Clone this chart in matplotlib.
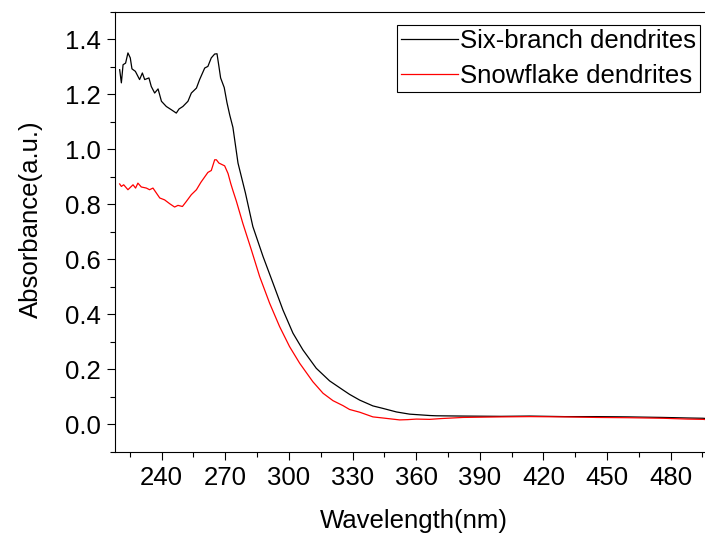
import matplotlib
matplotlib.use("Agg")
import matplotlib.pyplot as plt
from matplotlib.ticker import MultipleLocator

plt.rcParams['font.family'] = ['Liberation Sans', 'DejaVu Sans']

# Six-branch dendrites (black)
six_wl = [220.2, 221.0, 221.8, 223.0, 224.1, 225.2, 226.0, 227.6, 229.6, 230.9,
          232.0, 234.0, 235.1, 236.7, 238.3, 239.9, 242.2, 244.6, 246.9, 248.2,
          250.0, 252.4, 254.0, 256.4, 257.9, 260.3, 261.8, 263.4, 265.0, 266.1,
          267.0, 267.8, 269.5, 270.8, 272.1, 273.6, 276.0, 279.5, 283.0, 287.8,
          292.5, 297.2, 301.9, 306.6, 312.9, 319.2, 325.5, 328.6, 333.4, 339.6,
          344.3, 350.7, 356.9, 366.4, 369.5, 382.1, 400.0, 413.5, 430.0, 445.0,
          460.0, 476.4, 488.0, 495.2, 497.0]
six_abs = [1.290, 1.242, 1.308, 1.314, 1.351, 1.333, 1.293, 1.284, 1.254, 1.278,
           1.254, 1.260, 1.229, 1.205, 1.220, 1.175, 1.156, 1.144, 1.132, 1.147,
           1.156, 1.175, 1.205, 1.223, 1.254, 1.296, 1.302, 1.333, 1.347, 1.348,
           1.302, 1.260, 1.225, 1.170, 1.125, 1.080, 0.950, 0.841, 0.719, 0.610,
           0.513, 0.415, 0.331, 0.270, 0.203, 0.157, 0.124, 0.108, 0.087, 0.066,
           0.057, 0.044, 0.036, 0.031, 0.030, 0.029, 0.028, 0.029, 0.027, 0.027,
           0.026, 0.024, 0.022, 0.021, 0.020]

# Snowflake dendrites (red)
snow_wl = [220.2, 221.0, 222.1, 224.1, 226.5, 227.7, 228.8, 230.4, 232.8, 234.3,
           235.9, 237.5, 239.1, 241.4, 243.8, 246.1, 247.7, 249.8, 251.6, 254.0,
           256.4, 258.5, 261.8, 263.4, 265.0, 265.8, 267.0, 269.7, 271.3, 272.6,
           273.6, 275.2, 278.3, 282.3, 286.2, 290.9, 295.6, 300.3, 305.1, 311.3,
           316.1, 320.8, 325.5, 328.6, 333.4, 339.6, 344.3, 352.2, 356.0, 360.1,
           366.4, 372.0, 382.1, 400.0, 413.5, 430.0, 445.0, 460.0, 476.4, 488.0,
           495.2, 497.0]
snow_abs = [0.874, 0.865, 0.871, 0.853, 0.871, 0.859, 0.877, 0.863, 0.859, 0.853,
            0.859, 0.841, 0.823, 0.816, 0.802, 0.790, 0.796, 0.792, 0.810, 0.835,
            0.853, 0.880, 0.916, 0.923, 0.962, 0.962, 0.950, 0.940, 0.912, 0.875,
            0.850, 0.812, 0.730, 0.634, 0.537, 0.440, 0.355, 0.282, 0.221, 0.154,
            0.112, 0.085, 0.067, 0.053, 0.043, 0.026, 0.022, 0.015, 0.016, 0.018,
            0.017, 0.020, 0.024, 0.026, 0.027, 0.026, 0.024, 0.023, 0.021, 0.018,
            0.017, 0.016]

series_labels = ["Six-branch dendrites", "Snowflake dendrites"]
x_label = "Wavelength(nm)"
y_label = "Absorbance(a.u.)"

W, H = 705, 538
fig = plt.figure(figsize=(W / 100, H / 100), dpi=100)
ax = fig.add_axes([115 / W, (H - 451.5) / H, 590 / W, 439.5 / H])

ax.plot(six_wl, six_abs, color='black', lw=0.9, label=series_labels[0])
ax.plot(snow_wl, snow_abs, color='#ff0000', lw=0.9, label=series_labels[1])

ax.set_xlim(218.0, 496.2)
ax.set_ylim(-0.1, 1.5)
ax.xaxis.set_major_locator(MultipleLocator(30))
ax.xaxis.set_minor_locator(MultipleLocator(15))
ax.yaxis.set_major_locator(MultipleLocator(0.2))
ax.yaxis.set_minor_locator(MultipleLocator(0.1))
ax.yaxis.set_major_formatter(plt.FormatStrFormatter('%.1f'))

ax.spines['right'].set_visible(False)
for s in ['left', 'top', 'bottom']:
    ax.spines[s].set_linewidth(0.8)

ax.tick_params(which='both', direction='out', width=0.8, top=False, right=False)
ax.tick_params(which='major', length=6, labelsize=18.5)
ax.tick_params(axis='x', which='major', pad=4.5)
ax.tick_params(axis='y', which='major', pad=4)
ax.tick_params(which='minor', length=3.5)

ax.set_xlabel(x_label, fontsize=18.5)
ax.set_ylabel(y_label, fontsize=18.5)
ax.xaxis.set_label_coords((414 - 115) / 590, (451.5 - 509) / 439.5)
ax.yaxis.set_label_coords((43 - 115) / 590, (451.5 - 219) / 439.5)

leg = ax.legend(loc='upper right', bbox_to_anchor=(700 / W, 1 - 25 / H),
                bbox_transform=fig.transFigure, borderaxespad=0,
                fontsize=18.5, frameon=True, fancybox=False, shadow=False,
                handlelength=2.2, handletextpad=0.1, borderpad=0.15,
                labelspacing=0.42)
leg.get_frame().set_edgecolor('black')
leg.get_frame().set_linewidth(0.8)
leg.get_frame().set_alpha(1)

fig.savefig('out.png', dpi=100)
